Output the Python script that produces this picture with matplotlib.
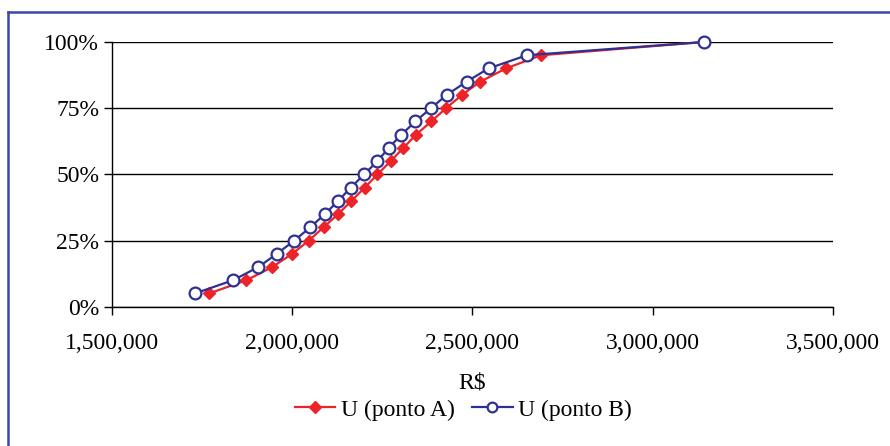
import matplotlib.pyplot as plt
import matplotlib.ticker as tck
from matplotlib.lines import Line2D

# --- Data ---
pct = [5, 10, 15, 20, 25, 30, 35, 40, 45, 50, 55, 60, 65, 70, 75, 80, 85, 90, 95, 100]

ponto_a = [1770000, 1873500, 1945500, 2000800, 2046800, 2087400, 2128100, 2164900,
           2201700, 2236900, 2273600, 2308800, 2343900, 2386300, 2427000, 2471200,
           2521900, 2593000, 2690600, 3141700]

ponto_b = [1730500, 1836500, 1906700, 1958200, 2006400, 2050600, 2091000, 2128100,
           2163000, 2200000, 2236900, 2268100, 2303300, 2342000, 2385400, 2428600,
           2483900, 2544800, 2651100, 3141700]

x_ticks = [1500000, 2000000, 2500000, 3000000, 3500000]
y_ticks = [0, 25, 50, 75, 100]

red = '#ec2329'
navy = '#2e3192'
fs = 17

plt.rcParams['font.family'] = ['Liberation Serif', 'DejaVu Serif']

fig = plt.figure(figsize=(8.9, 4.46), dpi=100)
ax = fig.add_axes([111.7/890, 1 - 306.7/446, (833 - 111.7)/890, (306.7 - 42)/446])

ax.plot(ponto_a, pct, color=red, lw=1.6, marker='D', ms=6.5,
        mfc=red, mec=red, label='U (ponto A)', zorder=3, clip_on=False)
ax.plot(ponto_b, pct, color=navy, lw=1.6, marker='o', ms=8.5,
        mfc='white', mec=navy, mew=1.6, label='U (ponto B)', zorder=4, clip_on=False)

ax.set_xlim(1500000, 3500000)
ax.set_ylim(0, 100)
ax.set_xticks(x_ticks)
ax.set_yticks(y_ticks)
ax.xaxis.set_major_formatter(tck.FuncFormatter(lambda v, p: f'{int(v):,}'))
ax.yaxis.set_major_formatter(tck.FuncFormatter(lambda v, p: f'{int(v)}%'))
ax.tick_params(labelsize=fs, length=6, width=1, color='black', direction='out')
ax.tick_params(axis='y', pad=3)
ax.tick_params(axis='x', pad=13)

ax.grid(axis='y', color='black', lw=1)
ax.set_axisbelow(True)
for s in ['top', 'right']:
    ax.spines[s].set_visible(False)
for s in ['left', 'bottom']:
    ax.spines[s].set_linewidth(1)
    ax.spines[s].set_color('black')

ax.set_xlabel('R$', fontsize=fs, labelpad=13)

handles = [
    Line2D([], [], color=red, lw=1.6, marker='D', ms=6.5, mfc=red, mec=red),
    Line2D([], [], color=navy, lw=1.6, marker='o', ms=7, mfc='white', mec=navy, mew=1.6),
]
fig.legend(handles, ['U (ponto A)', 'U (ponto B)'], loc='center',
           bbox_to_anchor=(463.5/890, 1 - 410/446), ncol=2, frameon=False,
           fontsize=fs, handlelength=1.7, handletextpad=0.25, columnspacing=0.75)

# --- outer frame (only top and left visible) ---
fig.add_artist(Line2D([8/890, 1], [1 - 12/446, 1 - 12/446], color='#3c48a8', lw=1.8,
                      transform=fig.transFigure))
fig.add_artist(Line2D([8/890, 8/890], [0, 1 - 12/446], color='#3c48a8', lw=1.8,
                      transform=fig.transFigure))

fig.savefig('out.png', dpi=100)
